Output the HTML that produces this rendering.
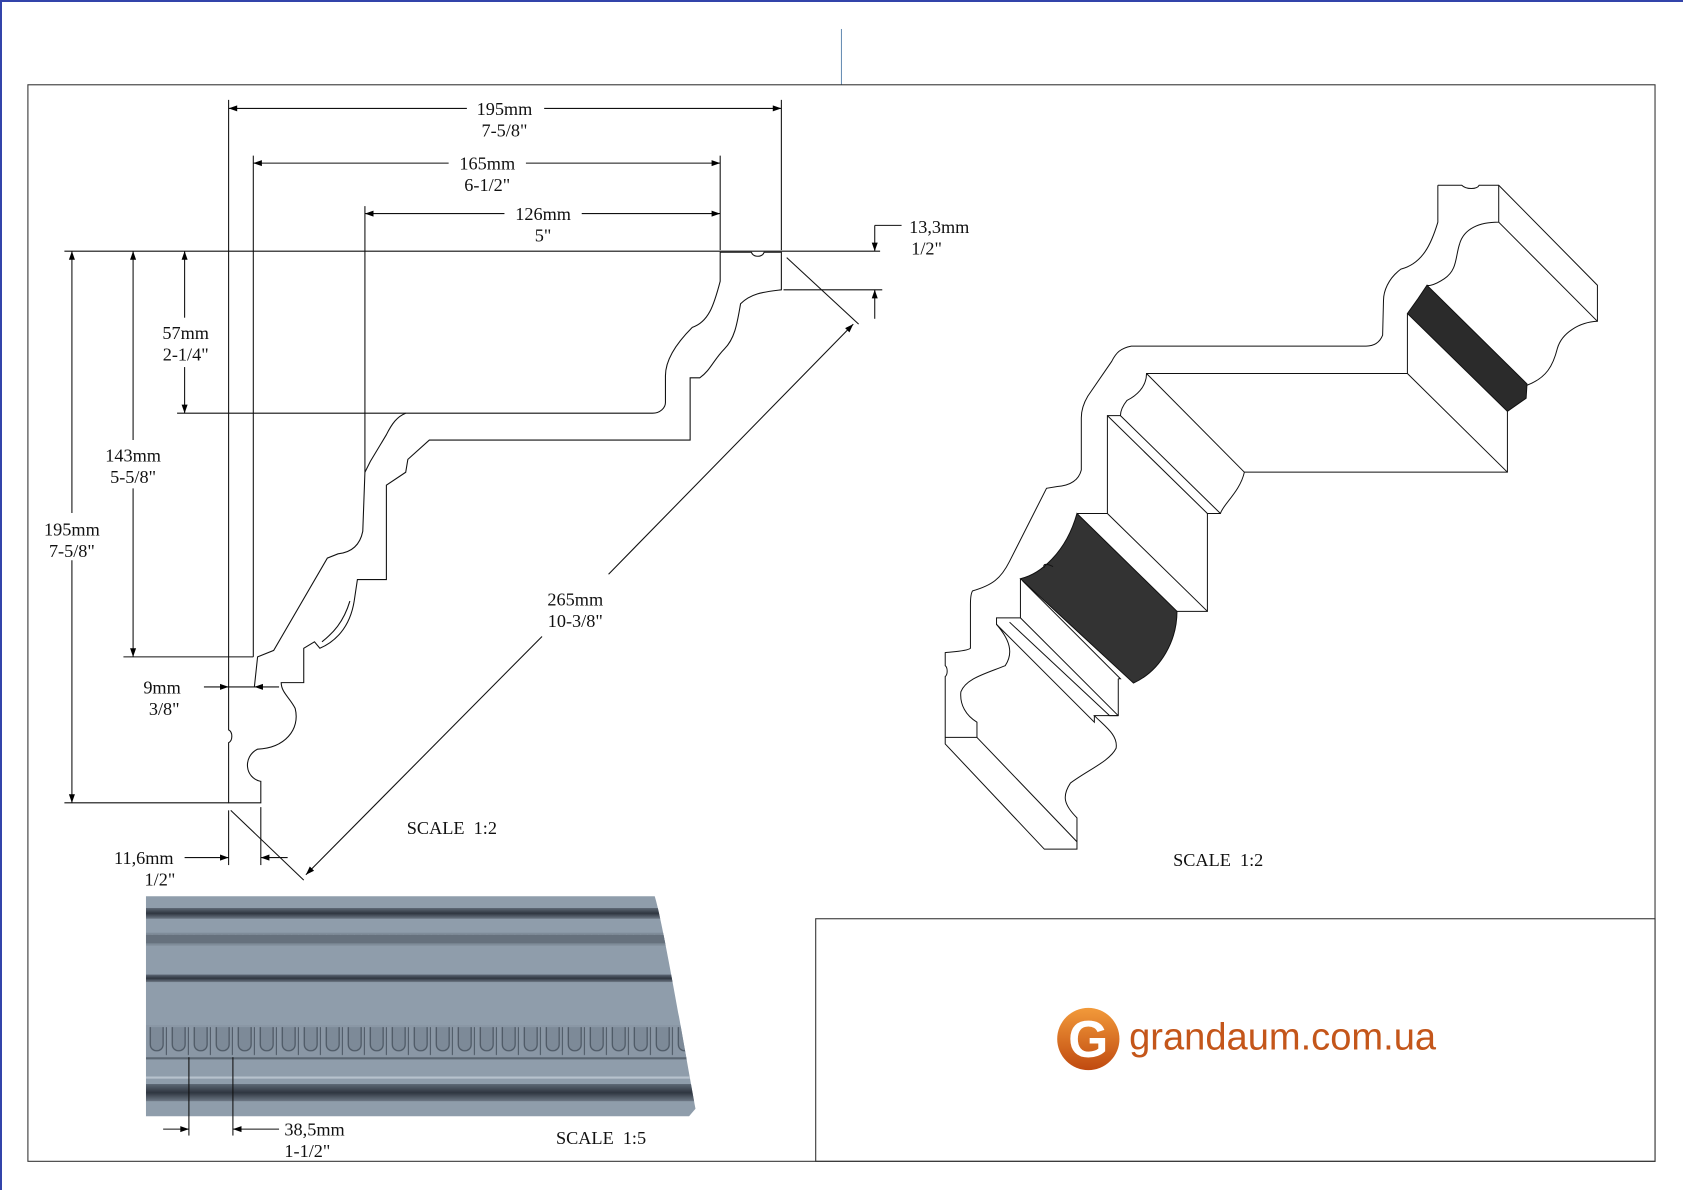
<!DOCTYPE html>
<html><head><meta charset="utf-8"><style>
html,body{margin:0;padding:0;background:#fff}
svg{display:block}
text{font-family:"Liberation Serif",serif;font-size:17px;fill:#111}
</style></head><body>
<svg width="1683" height="1190" viewBox="0 0 1683 1190" xmlns="http://www.w3.org/2000/svg">
<defs>
<marker id="a" viewBox="0 0 10 10" refX="10" refY="5" markerWidth="20" markerHeight="8" orient="auto-start-reverse" markerUnits="userSpaceOnUse"><path d="M0,1.5 L10,5 L0,8.5z" fill="#000"/></marker>
<linearGradient id="dk" x1="0" y1="0" x2="0" y2="1"><stop offset="0" stop-color="#5d6875"/><stop offset=".5" stop-color="#2f3640"/><stop offset="1" stop-color="#6d7885"/></linearGradient>
<linearGradient id="og" x1="0" y1="0" x2="0" y2="1"><stop offset="0" stop-color="#f29a3a"/><stop offset="1" stop-color="#c04a10"/></linearGradient>
<pattern id="egg" x="136" y="955" width="20.5" height="32" patternUnits="userSpaceOnUse">
<rect width="20.5" height="32" fill="#8a97a5"/>
<path d="M4,2 L4,18 C4,26 16,26 16,18 L16,2" fill="#7d8a98" stroke="#4d5864" stroke-width="1.2"/>
<line x1="19" y1="2" x2="19" y2="28" stroke="#4d5864" stroke-width="1"/>
</pattern>
</defs>
<line x1="1" y1="0" x2="1" y2="1190" stroke="#3344aa" stroke-width="2"/>
<line x1="0" y1="1" x2="1683" y2="1" stroke="#3344aa" stroke-width="2"/>
<g transform="scale(1.0733)">
<line x1="784" y1="27" x2="784" y2="79" stroke="#6a8fb5" stroke-width="1"/>
<rect x="26" y="79" width="1516" height="1003" fill="none" stroke="#333" stroke-width="1"/>
<rect x="760" y="856" width="782" height="226" fill="none" stroke="#333" stroke-width="1"/>

<g fill="none" stroke="#111" stroke-width="1">
<path d="M213,748 L243,748 L243,728 C228,725 226,705 240,698 C265,697 280,680 275,660 C270,650 262,645 262,636 L283,636 L283,604 L293,598 L298,604 C312,598 326,585 330,560 L333,540 L360,540 L360,452 L378,440 L380,428 L400,410 L643,410 L643,352 L652,352 C662,345 665,335 675,325 C685,315 687,300 690,283 C700,273 712,272 728,270 L728,235 L712,235 C710,240 702,240 700,235 L671,235 L671,262 C665,285 660,300 645,305 C630,320 620,335 620,350 L620,375 C620,380 615,385 608,385 L378,385 C370,388 365,395 360,405 L345,430 L340,440 L338,495 C335,510 325,515 315,516 L305,520 L255,606 L240,612 L237,640 L213,640 L213,680 C217,682 217,690 213,692 Z"/>
<path d="M300,598 C310,590 320,580 326,560"/>
<line x1="213" y1="93" x2="213" y2="640"/>
<line x1="728" y1="93" x2="728" y2="233"/>
<line x1="236" y1="145" x2="236" y2="612"/>
<line x1="671" y1="145" x2="671" y2="233"/>
<line x1="340" y1="192" x2="340" y2="440"/>
<line x1="60" y1="234" x2="820" y2="234"/>
<line x1="730" y1="270" x2="822" y2="270"/>
<line x1="115" y1="612" x2="236" y2="612"/>
<line x1="165" y1="385" x2="378" y2="385"/>
<line x1="60" y1="748" x2="213" y2="748"/>
<line x1="733" y1="240" x2="800" y2="302"/>
<line x1="215" y1="755" x2="283" y2="820"/>
<line x1="213" y1="755" x2="213" y2="806"/>
<line x1="243" y1="752" x2="243" y2="806"/>
</g>
<g fill="none" stroke="#111" stroke-width="1">
<line x1="213" y1="101" x2="435" y2="101" marker-start="url(#a)"/><line x1="507" y1="101" x2="728" y2="101" marker-end="url(#a)"/>
<line x1="236" y1="152" x2="418" y2="152" marker-start="url(#a)"/><line x1="490" y1="152" x2="671" y2="152" marker-end="url(#a)"/>
<line x1="340" y1="199" x2="470" y2="199" marker-start="url(#a)"/><line x1="542" y1="199" x2="671" y2="199" marker-end="url(#a)"/>
<line x1="67" y1="234" x2="67" y2="478" marker-start="url(#a)"/><line x1="67" y1="522" x2="67" y2="748" marker-end="url(#a)"/>
<line x1="124" y1="234" x2="124" y2="410" marker-start="url(#a)"/><line x1="124" y1="455" x2="124" y2="612" marker-end="url(#a)"/>
<line x1="172" y1="234" x2="172" y2="296" marker-start="url(#a)"/><line x1="172" y1="342" x2="172" y2="385" marker-end="url(#a)"/>
<line x1="815" y1="210" x2="815" y2="234" marker-end="url(#a)"/><line x1="815" y1="210" x2="840" y2="210"/>
<line x1="815" y1="297" x2="815" y2="270" marker-end="url(#a)"/>
<line x1="285" y1="815" x2="505" y2="593" marker-start="url(#a)"/><line x1="567" y1="535" x2="795" y2="302" marker-end="url(#a)"/>
<line x1="190" y1="640" x2="213" y2="640" marker-end="url(#a)"/>
<line x1="260" y1="640" x2="237" y2="640" marker-end="url(#a)"/>
<line x1="172" y1="799" x2="213" y2="799" marker-end="url(#a)"/>
<line x1="268" y1="799" x2="243" y2="799" marker-end="url(#a)"/>
<line x1="152" y1="1052" x2="176" y2="1052" marker-end="url(#a)"/>
<line x1="260" y1="1052" x2="217" y2="1052" marker-end="url(#a)"/>
</g>
<g text-anchor="middle">
<text x="470" y="107">195mm</text><text x="470" y="127">7-5/8"</text>
<text x="454" y="158">165mm</text><text x="454" y="178">6-1/2"</text>
<text x="506" y="205">126mm</text><text x="506" y="225">5"</text>
<text x="173" y="316">57mm</text><text x="173" y="336">2-1/4"</text>
<text x="124" y="430">143mm</text><text x="124" y="450">5-5/8"</text>
<text x="67" y="499">195mm</text><text x="67" y="519">7-5/8"</text>
<text x="536" y="564">265mm</text><text x="536" y="584">10-3/8"</text>
<text x="151" y="646">9mm</text><text x="153" y="666">3/8"</text>
<text x="134" y="805">11,6mm</text><text x="149" y="825">1/2"</text>
<text x="421" y="777">SCALE&#160; 1:2</text>
<text x="1135" y="807">SCALE&#160; 1:2</text>
<text x="560" y="1066">SCALE&#160; 1:5</text>
</g>
<text x="847" y="217">13,3mm</text><text x="849" y="237">1/2"</text>
<text x="265" y="1058">38,5mm</text><text x="265" y="1078">1-1/2"</text>

<path d="M136,835 L610,835 C618,860 640,990 648,1033 L642,1040 L136,1040 Z" fill="#8f9dab"/>
<clipPath id="pc"><path d="M136,835 L610,835 C618,860 640,990 648,1033 L642,1040 L136,1040 Z"/></clipPath>
<g clip-path="url(#pc)">
<rect x="136" y="846" width="520" height="10" fill="url(#dk)"/>
<rect x="136" y="869" width="520" height="12" fill="#7f8c99"/>
<line x1="136" y1="875" x2="656" y2="875" stroke="#66717d" stroke-width="8" stroke-dasharray="5 1.5" stroke-linecap="round"/>
<rect x="136" y="908" width="520" height="7" fill="url(#dk)"/>
<rect x="136" y="955" width="520" height="32" fill="url(#egg)"/>
<line x1="136" y1="986" x2="656" y2="986" stroke="#5b6672" stroke-width="2"/>
<line x1="136" y1="1004" x2="656" y2="1004" stroke="#b7c2cd" stroke-width="2"/>
<rect x="136" y="1010" width="520" height="16" fill="url(#dk)"/>
</g>
<line x1="176" y1="985" x2="176" y2="1058" stroke="#111"/>
<line x1="217" y1="985" x2="217" y2="1058" stroke="#111"/>

<circle cx="1014" cy="968" r="29" fill="url(#og)"/>
<text x="1014" y="985" text-anchor="middle" style="font-family:'Liberation Sans',sans-serif;font-size:48px;font-weight:bold;fill:#fff">G</text>
<text x="1052" y="978" textLength="286" lengthAdjust="spacingAndGlyphs" style="font-family:'Liberation Sans',sans-serif;font-size:35px;fill:#c4561a">grandaum.com.ua</text>
</g>

<g transform="translate(940,170) scale(0.4348)" fill="none" stroke="#111" stroke-width="2.3">
<path d="M1075,330 L1100,295 L1120,265 L1350,492 L1348,525 L1305,555 Z" fill="#2b2b2b"/>
<path d="M185,940 C230,930 290,880 315,790 L545,1015 C545,1080 510,1150 445,1180 Z" fill="#333"/>
<path d="M1145,35 L1200,35 C1210,45 1235,45 1240,35 L1285,35 L1512,265 L1512,348 C1470,350 1430,375 1420,410 C1410,450 1395,478 1350,495"/>
<path d="M1285,35 L1285,120 C1240,120 1205,135 1195,170 C1185,200 1190,230 1160,250 C1130,270 1120,265 1120,265"/>
<path d="M1285,120 L1512,348"/>
<path d="M1145,35 L1145,120 C1130,170 1110,215 1060,228 C1030,250 1020,280 1020,300 L1018,380 C1010,400 995,405 980,405 L440,405 C415,410 405,420 395,440 L340,520 C328,540 325,555 325,570 L325,690 C320,710 305,725 270,728 L245,732 L160,900 C140,940 120,955 75,968 C70,975 70,990 70,1000 L70,1100 C60,1108 20,1108 12,1110 L12,1140 C18,1145 18,1160 12,1165 L12,1320 L240,1562 L315,1562 L315,1490 C285,1460 280,1440 300,1410 C340,1380 390,1360 405,1330 C410,1300 380,1280 355,1255 L410,1255 L410,1170"/>
<path d="M1305,555 L1305,695 L700,695 C690,740 650,770 645,790 L615,790 L615,1015 L545,1015"/>
<path d="M1075,330 L1075,468 L475,468 C475,500 450,520 430,530 C418,545 415,555 415,565 L385,565 L385,790 L315,790"/>
<path d="M1075,468 L1305,695"/>
<path d="M475,468 L700,695"/>
<path d="M385,565 L615,790"/>
<path d="M415,565 L645,790"/>
<path d="M385,790 L615,1015"/>
<path d="M185,940 L185,1030 L130,1030 L130,1045 L355,1270 L355,1255"/>
<path d="M160,1040 L390,1255 L410,1255"/>
<path d="M185,1030 L410,1255"/>
<path d="M190,945 L415,1170 L410,1170"/>
<path d="M130,1045 C160,1080 170,1110 150,1140 C100,1160 60,1170 48,1200 C45,1230 60,1255 85,1270 L85,1305 L12,1305"/>
<path d="M85,1305 L315,1545"/>
<path d="M240,915 C235,905 245,905 260,912"/>
</g>
</svg>
</body></html>
